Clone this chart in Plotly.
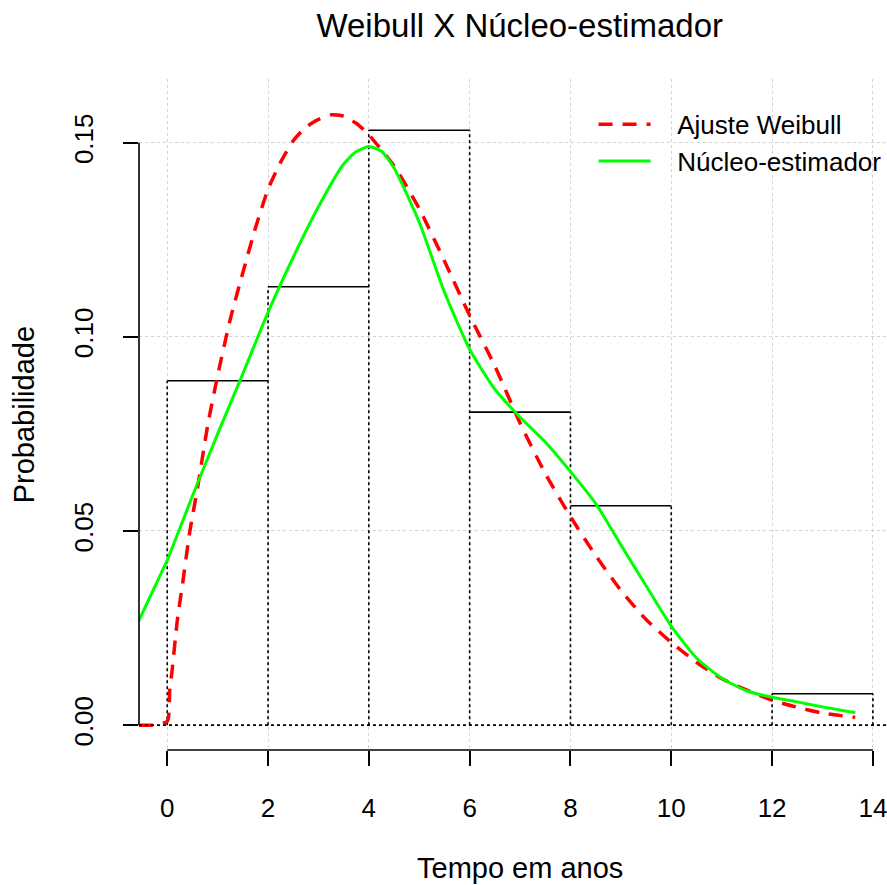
import plotly.graph_objects as go

# ---------------- data ----------------
bin_edges = [0, 2, 4, 6, 8, 10, 12, 14]
bin_density = [0.0887, 0.1129, 0.1532, 0.0806, 0.0565, 0.0, 0.0081]

weib_x = [-0.56, -0.3, 0.0, 0.05, 0.1, 0.2, 0.3, 0.45, 0.6, 0.8, 1.0, 1.25, 1.5, 1.75,
          2.0, 2.25, 2.5, 2.75, 3.0, 3.25, 3.5, 3.75, 4.0, 4.5, 5.0, 5.5, 6.0, 6.5,
          7.0, 7.5, 8.0, 8.5, 9.0, 9.5, 10.0, 10.5, 11.0, 11.5, 12.0, 12.5, 13.0, 13.65]
weib_y = [0.0, 0.0, 0.001, 0.009, 0.0145, 0.027, 0.036, 0.050, 0.061, 0.077, 0.090,
          0.1045, 0.1165, 0.128, 0.138, 0.145, 0.1505, 0.154, 0.156, 0.1572, 0.1568,
          0.155, 0.152, 0.144, 0.133, 0.1195, 0.1055, 0.0925, 0.0778, 0.0648, 0.0537,
          0.0437, 0.0347, 0.0272, 0.0213, 0.0162, 0.012, 0.009, 0.0064, 0.0046, 0.0031,
          0.002]

kern_x = [-0.575, -0.3, 0.0, 0.5, 1.0, 1.5, 2.0, 2.5, 3.0, 3.5, 3.75, 4.0,
          4.25, 4.5, 5.0, 5.5, 6.0, 6.5, 7.0, 7.5, 8.0, 8.5, 9.0, 9.5, 10.0, 10.5, 11.0,
          11.5, 12.0, 12.5, 13.0, 13.65]
kern_y = [0.0266, 0.0342, 0.0425, 0.059, 0.075, 0.0905, 0.1063, 0.1205, 0.1335, 0.1445,
          0.1477, 0.149, 0.1478, 0.1435, 0.1295, 0.1115, 0.0968, 0.0865, 0.0793, 0.0729,
          0.0653, 0.0571, 0.0464, 0.0359, 0.0255, 0.0173, 0.0121, 0.0088, 0.0072, 0.006,
          0.0047, 0.0032]

x_ticks = [0, 2, 4, 6, 8, 10, 12, 14]
y_ticks = [0.0, 0.05, 0.10, 0.15]
y_tick_text = ["0.00", "0.05", "0.10", "0.15"]

title_text = "Weibull X Núcleo-estimador"
x_title = "Tempo em anos"
y_title = "Probabilidade"
legend_names = ["\u00a0\u00a0\u00a0Ajuste Weibull", "\u00a0\u00a0\u00a0Núcleo-estimador"]

# ---------------- figure ----------------
FONT = "Liberation Sans, Arial, sans-serif"
fig = go.Figure()

# histogram tops (solid)
tx, ty = [], []
for i, d in enumerate(bin_density):
    if d > 0:
        tx += [bin_edges[i], bin_edges[i + 1], None]
        ty += [d, d, None]
fig.add_trace(go.Scatter(x=tx, y=ty, mode="lines", line=dict(color="black", width=1.6),
                         showlegend=False, hoverinfo="skip"))

# histogram sides (dotted)
sx, sy = [], []
for j, e in enumerate(bin_edges):
    left = bin_density[j - 1] if j > 0 else 0
    right = bin_density[j] if j < len(bin_density) else 0
    h = max(left, right)
    if h > 0:
        sx += [e, e, None]
        sy += [0, h, None]
fig.add_trace(go.Scatter(x=sx, y=sy, mode="lines", line=dict(color="black", width=1.6, dash="dot"),
                         showlegend=False, hoverinfo="skip"))

# baseline
fig.add_hline(y=0, line=dict(color="black", width=1.6, dash="dot"), layer="above")

fig.add_trace(go.Scatter(x=weib_x, y=weib_y, mode="lines", name=legend_names[0],
                         line=dict(color="#ff0000", width=3.5, dash="14px,10px", shape="spline", smoothing=0.6)))
fig.add_trace(go.Scatter(x=kern_x, y=kern_y, mode="lines", name=legend_names[1],
                         line=dict(color="#00ff00", width=3, shape="spline", smoothing=0.6)))

# R-style axis lines spanning only the tick range
fig.add_shape(type="line", xref="x", yref="paper", x0=x_ticks[0], x1=x_ticks[-1], y0=0, y1=0,
              line=dict(color="black", width=1.6))
fig.add_shape(type="line", xref="paper", yref="y", x0=0, x1=0, y0=y_ticks[0], y1=y_ticks[-1],
              line=dict(color="black", width=1.6))

fig.update_layout(
    width=887, height=885,
    margin=dict(l=139, r=0, t=79, b=135),
    paper_bgcolor="white", plot_bgcolor="white",
    font=dict(family=FONT, size=26, color="black"),
    title=dict(text=title_text, x=0.509, xref="paper", xanchor="center",
               y=1 - 25 / 885, yref="container", yanchor="middle",
               font=dict(size=33, family=FONT, color="black")),
    showlegend=True,
    legend=dict(x=0.6077, y=0.9675, xanchor="left", yanchor="top", bgcolor="rgba(0,0,0,0)",
                borderwidth=0, font=dict(size=26, family=FONT), itemwidth=52,
                tracegroupgap=0),
    xaxis=dict(range=[-0.56, 14.28], tickvals=x_ticks, ticks="outside", ticklen=15, tickwidth=1.6,
               tickcolor="black", showline=False, zeroline=False, showgrid=True,
               gridcolor="#d3d3d3", griddash="dot", gridwidth=1.2, ticklabeloverflow="allow",
               tickfont=dict(size=26, family=FONT), ticklabelstandoff=20),
    yaxis=dict(range=[-0.0064, 0.1664], tickvals=y_ticks, ticktext=y_tick_text, tickangle=-90,
               ticks="outside", ticklen=15, tickwidth=1.6, tickcolor="black", showline=False,
               zeroline=False, showgrid=True, gridcolor="#d3d3d3", griddash="dot", gridwidth=1.2,
               tickfont=dict(size=26, family=FONT), ticklabelstandoff=20),
    annotations=[
        dict(text=x_title, xref="paper", yref="paper", x=0.509, y=-0.176, xanchor="center",
             yanchor="middle", showarrow=False, font=dict(size=29, family=FONT)),
        dict(text=y_title, xref="paper", yref="paper", x=-0.154, y=0.5, xanchor="center",
             yanchor="middle", textangle=-90, showarrow=False, font=dict(size=29, family=FONT)),
    ],
)

fig.write_html("out.html")
